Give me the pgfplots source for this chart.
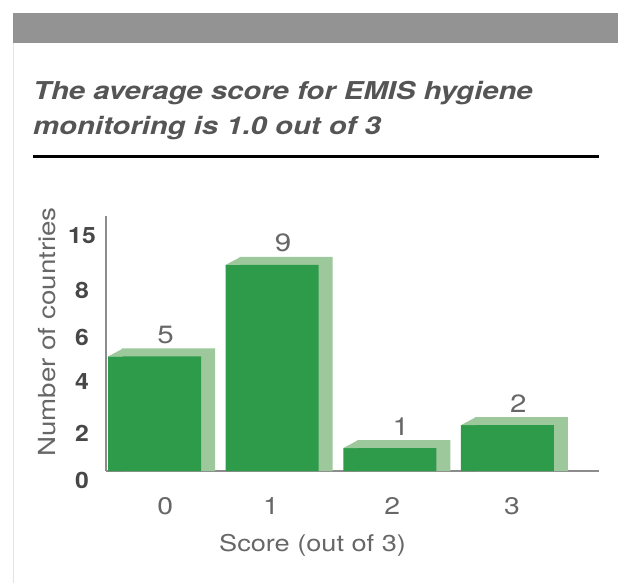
\documentclass[border=0pt]{standalone}
\usepackage{pgfplots}
\pgfplotsset{compat=1.18}
\usepackage{pgfplotstable}
\usepackage{fontspec}
\setmainfont{TeX Gyre Heros}[FakeStretch=1.18]
\newfontfamily\titlefont{TeX Gyre Heros}[FakeStretch=1.19]
\newfontfamily\tickfont{TeX Gyre Heros}[FakeStretch=1.1]
\definecolor{darkgreen}{HTML}{2E9B4A}
\definecolor{lightgreen}{HTML}{9DC89C}
\definecolor{band}{HTML}{939393}
\definecolor{txt}{HTML}{555555}
\definecolor{ticktxt}{HTML}{474747}
\definecolor{lighttxt}{HTML}{676767}
\definecolor{axisgray}{HTML}{8C8C8C}
\definecolor{border}{HTML}{E4E4E4}
\pgfdeclareplotmark{shadowtri}{%
  \pgfpathmoveto{\pgfpoint{-46.5bp}{0bp}}%
  \pgfpathlineto{\pgfpoint{-31.5bp}{8bp}}%
  \pgfpathlineto{\pgfpoint{-31.5bp}{0bp}}%
  \pgfpathclose\pgfusepathqfill}

\pgfplotstableread{
x y
0 5
1 9
2 1
3 2
}\data

\begin{document}
\begin{tikzpicture}
\path[use as bounding box, fill=white] (0,0) rectangle (618bp,583bp);
\fill[band] (12.7bp,540.3bp) rectangle (618bp,569.7bp);
\draw[border, line width=1.5bp] (13.4bp,0bp) -- (13.4bp,540.3bp);
\node[anchor=base west, inner sep=0pt, text=txt,
      font=\fontsize{24.6bp}{30bp}\selectfont\titlefont\bfseries\itshape]
      at (33bp,483bp) {The average score for EMIS hygiene};
\node[anchor=base west, inner sep=0pt, text=txt,
      font=\fontsize{24.6bp}{30bp}\selectfont\titlefont\bfseries\itshape]
      at (33bp,448.5bp) {monitoring is 1.0 out of 3};
\draw[black, line width=2.5bp] (33bp,426.3bp) -- (599bp,426.3bp);

\begin{axis}[
  at={(106bp,112bp)}, anchor=south west,
  scale only axis, width=493bp, height=255bp,
  xmin=-0.413, xmax=3.779, ymin=0, ymax=11.135,
  enlargelimits=false, clip=false,
  axis lines*=left,
  axis line style={axisgray, line width=2bp},
  major tick length=0pt,
  /pgf/number format/assume math mode=true,
  xtick={0.09,0.99,2.02,3.04}, xticklabels={0,1,2,3},
  ytick={1.66,3.89,5.81,7.87,10.27}, yticklabels={2,4,6,8,15},
  extra y ticks={0}, extra y tick labels={0},
  extra y tick style={yticklabel style={yshift=-9bp}},
  xticklabel style={anchor=base, yshift=-43bp, inner sep=0pt, text=lighttxt,
    font=\fontsize{24bp}{28bp}\selectfont},
  yticklabel style={anchor=center, xshift=-24bp, inner sep=0pt, text=ticktxt,
    font=\fontsize{22.5bp}{26bp}\selectfont\tickfont\bfseries},
  xlabel={Score (out of 3)},
  ylabel={Number of countries},
  xlabel style={at={(axis description cs:0.419,-0.3165)}, anchor=base,
    inner sep=0pt, text=lighttxt, font=\fontsize{23bp}{28bp}\selectfont},
  ylabel style={at={(axis description cs:-0.1197,0.545)}, anchor=center,
    inner sep=0pt, text=lighttxt, font=\fontsize{23.5bp}{28bp}\selectfont},
  bar width=93bp,
]
\addplot[ybar, bar shift=14bp, fill=lightgreen, draw=none]
  table[x=x, y expr=\thisrow{y}+0.35] {\data};
\addplot[ybar, bar shift=0pt, fill=darkgreen, draw=none,
  mark=shadowtri, mark options={fill=lightgreen, draw=none},
  nodes near coords,
  every node near coord/.append style={anchor=south, inner sep=0pt,
    xshift=11bp, yshift=12.5bp, text=lighttxt,
    font=\fontsize{25bp}{28bp}\selectfont}]
  table[x=x, y=y] {\data};
\end{axis}
\end{tikzpicture}
\end{document}
